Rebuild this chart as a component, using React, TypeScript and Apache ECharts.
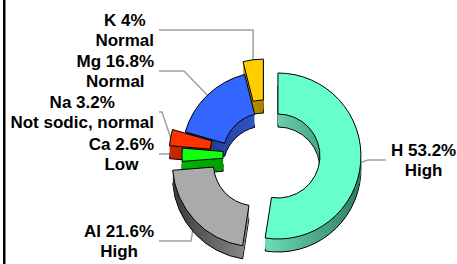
import React, { useEffect, useRef } from 'react';
import * as echarts from 'echarts';

// ---- data ----
const names = ['H', 'Al', 'Ca', 'Na', 'Mg', 'K'];
const values = [53.2, 21.6, 2.6, 3.2, 16.8, 4];
const ratings = ['High', 'High', 'Low', 'Not sodic, normal', 'Normal', 'Normal'];
const exploded = [true, true, false, true, false, true];

// ---- styles ----
const topColors = ['#66FFCC', '#AAAAAA', '#11FF11', '#FF3300', '#3366FF', '#FFCC00'];
const sideStops = [
  ['#6fdcb5', '#2e7d62'],
  ['#3a3a3a', '#8c8c8c'],
  ['#00b400', '#009c00'],
  ['#c82800', '#a81e00'],
  ['#1b2f78', '#2f55c8'],
  ['#c79a00', '#a88200'],
];
const lineLen2 = [18, 32, 20, 3, 25, 97];
// label placement: side, edge x (text edge facing chart), centre y
const labelPlace = [
  { side: 'right', edge: 391, y: 160 },
  { side: 'left', edge: 154, y: 241 },
  { side: 'left', edge: 154, y: 154 },
  { side: 'left', edge: 154, y: 112 },
  { side: 'left', edge: 154, y: 71 },
  { side: 'left', edge: 154, y: 30 },
];

const CX = 265;
const CY = 155;
const R_IN = 42;
const R_OUT = 83;
const DEPTH = 13;
const EXPLODE = 13;
const depthLayers = [13, 11, 9, 7, 5, 3, 1];

export default function App() {
  const ref = useRef<HTMLDivElement>(null);
  useEffect(() => {
    if (!ref.current) return;
    const chart = echarts.init(ref.current, null, { renderer: 'svg' });

    const total = values.reduce((a, b) => a + b, 0);
    const offsets = values.map((v, i) => {
      const before = values.slice(0, i).reduce((a, b) => a + b, 0);
      const mid = ((before + v / 2) / total) * Math.PI * 2; // clockwise from 12 o'clock
      const off = exploded[i] ? EXPLODE : 0;
      return [off * Math.sin(mid), -off * Math.cos(mid)];
    });

    const hidden = { color: 'rgba(0,0,0,0)', borderWidth: 0 };
    const series: any[] = [];

    depthLayers.forEach((d) => {
      const bordered = d === DEPTH;
      names.forEach((_, s) => {
        series.push({
          type: 'pie',
          silent: true,
          center: [CX + offsets[s][0], CY + offsets[s][1] + d],
          radius: [R_IN, R_OUT],
          startAngle: 90,
          clockwise: true,
          avoidLabelOverlap: false,
          label: { show: false },
          labelLine: { show: false },
          emphasis: { disabled: true },
          data: names.map((n, i) => ({
            name: n,
            value: values[i],
            itemStyle:
              i === s
                ? {
                    color: new echarts.graphic.LinearGradient(0, 0, 1, 0, [
                      { offset: 0, color: sideStops[i][0] },
                      { offset: 1, color: sideStops[i][1] },
                    ]),
                    borderColor: '#000',
                    borderWidth: bordered ? 1 : 0,
                  }
                : hidden,
          })),
        });
      });
    });

    names.forEach((_, s) => {
      series.push({
        type: 'pie',
        center: [CX + offsets[s][0], CY + offsets[s][1]],
        radius: [R_IN, R_OUT],
        startAngle: 90,
        clockwise: true,
        avoidLabelOverlap: false,
        emphasis: { disabled: true },
        label: {
          show: false,
          position: 'outside',
          formatter: (p: any) => `${p.name} ${values[p.dataIndex]}%\n${ratings[p.dataIndex]}`,
          fontFamily: 'Liberation Sans, Arial, sans-serif',
          fontWeight: 'bold',
          fontSize: 17,
          lineHeight: 20,
          color: '#000',
          align: 'center',
          padding: [0, 5],
        },
        labelLine: {
          show: false,
          length: 5,
          length2: 10,
          smooth: false,
          lineStyle: { color: '#a0a0a0', width: 1.5 },
        },
        labelLayout: (params: any) => {
          const pl = labelPlace[params.dataIndex];
          const w = params.labelRect.width;
          const x = pl.side === 'left' ? pl.edge + 5 - w / 2 : pl.edge - 5 + w / 2;
          return { x, y: pl.y, align: 'center', verticalAlign: 'middle' };
        },
        data: names.map((n, i) => ({
          name: n,
          value: values[i],
          itemStyle: i === s ? { color: topColors[i], borderColor: '#000', borderWidth: 1 } : hidden,
          label: { show: i === s },
          labelLine: { show: i === s, length2: lineLen2[i] },
        })),
      });
    });

    chart.setOption({
      animation: false,
      backgroundColor: '#fff',
      graphic: [
        { type: 'rect', shape: { x: 3, y: 0, width: 2.5, height: 264 }, style: { fill: '#000' }, z: 10 },
      ],
      series,
    });
    return () => chart.dispose();
  }, []);
  return (
    <div
      ref={ref}
      style={{ position: 'absolute', left: 0, top: 0, width: 457, height: 264 }}
    />
  );
}
